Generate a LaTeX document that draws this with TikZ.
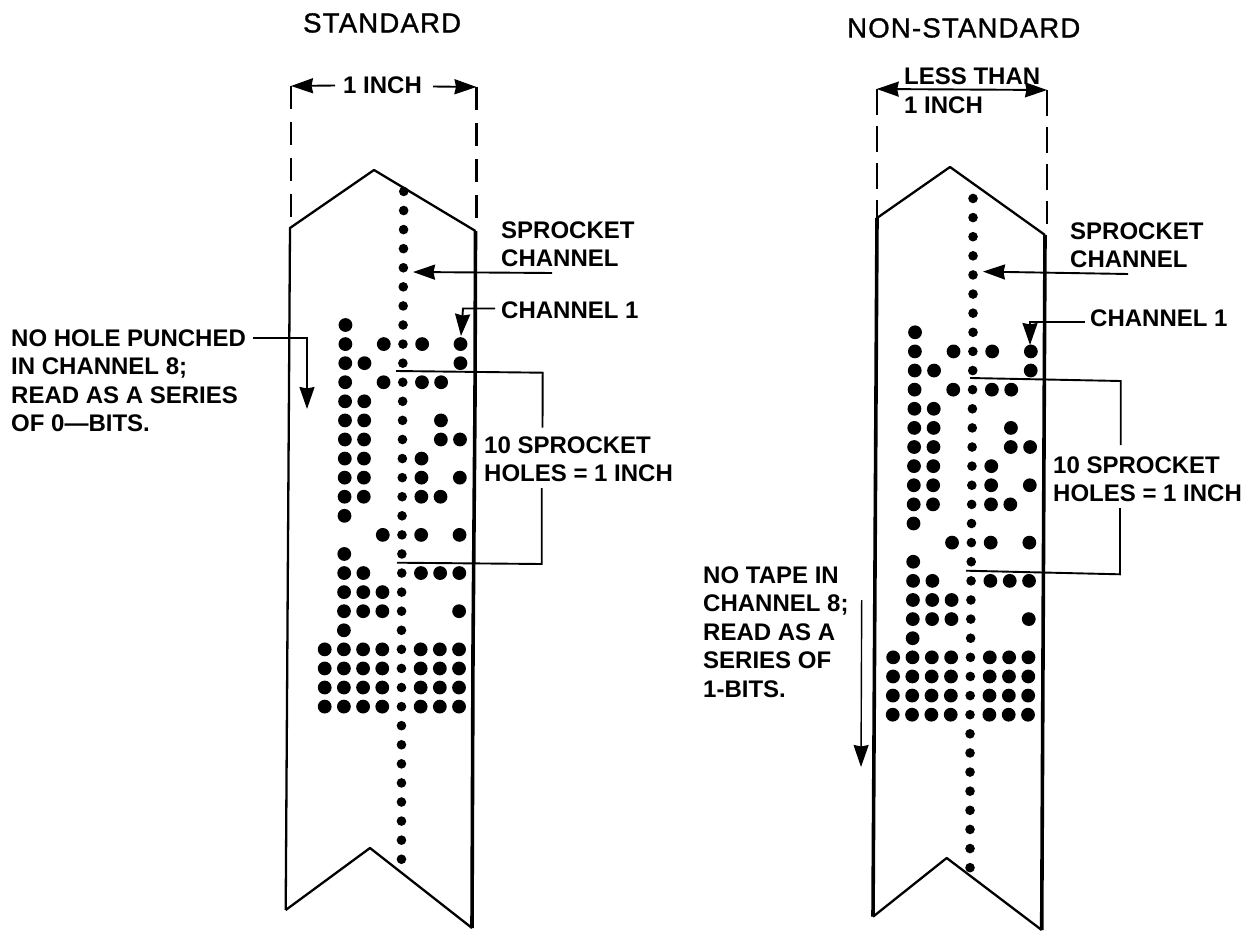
\documentclass[tikz,border=0pt]{standalone}
\usepackage{fontspec}
\setmainfont{Liberation Sans}
\usetikzlibrary{arrows.meta}
\newfontfamily\ttlfont[LetterSpace=4.5,FakeBold=1.2]{Liberation Sans}
\newcommand{\lab}{\fontsize{24}{28.4}\selectfont\bfseries}
\newcommand{\ttl}{\ttlfont\fontsize{27.5}{30}\selectfont}
\newcommand{\holes}[7]{% x0, slot, y0, dy, leanmax, leanrate, sprocket x
  \foreach \i/\cols in {0/{1},1/{1,3,5,7},2/{1,2,7},3/{1,3,5,6},4/{1,2},5/{1,2,6},6/{1,2,6,7},7/{1,2,5},8/{1,2,5,7},9/{1,2,5,6},10/{1},11/{3,5,7},12/{1},13/{1,2,5,6,7},14/{1,2,3},15/{1,2,3,7},16/{1},17/{0,1,2,3,5,6,7},18/{0,1,2,3,5,6,7},19/{0,1,2,3,5,6,7},20/{0,1,2,3,5,6,7}}{
    \pgfmathsetmacro{\dx}{min(#5,max(0,(#6-\i)*#7))}
    \foreach \c in \cols {\fill ({#1+\c*#2+\dx},{#3+\i*#4}) circle (6.9);}
  }
  \foreach \i in {-7,...,28}{
    \pgfmathsetmacro{\dx}{min(#5,max(0,(#6-\i)*#7))}
    \fill ({#1+4*#2+\dx},{#3+\i*#4}) circle (4.8);
  }
}
\tikzset{
  txt/.style={anchor=north west,inner sep=0pt,align=left,font=\lab},
  ttlnode/.style={anchor=north west,inner sep=0pt,font=\ttl},
  edgethin/.style={line width=2.3pt,line join=round},
  edgethick/.style={line width=3.6pt,line join=round},
  dim/.style={line width=2.1pt,dash pattern=on 23pt off 13pt},
  lead/.style={line width=1.9pt},
  tip/.tip={Stealth[length=22pt,width=15pt,inset=1.5pt]},
  arr/.style={lead,-tip},
}
\begin{document}
\begin{tikzpicture}[x=1pt,y=-1pt]
\useasboundingbox (0,0) rectangle (1255,931);
% ---- STANDARD ----
\coordinate (aL) at (290,228); \coordinate (aT) at (374,170); \coordinate (aR) at (475.5,231);
\coordinate (aBL) at (285.7,910); \coordinate (aN) at (370,848); \coordinate (aBR) at (472,928);
\draw[edgethin] (aBL) -- (aL) -- (aT) -- (aR);
\draw[edgethick] (aR) -- (475,400) -- (473,650) -- (aBR);
\draw[edgethin] (aBL) -- (aN) -- (aBR);
\coordinate (aDL0) at (291,86); \coordinate (aDL1) at (291,217);
\coordinate (aDR0) at (476.5,87); \coordinate (aDR1) at (476.5,218);
\draw[dim] (aDL0) -- (aDL1);
\draw[dim] (aDR0) -- (aDR1);
\holes{324.7}{19.19}{325}{19.08}{2.4}{16}{0.1}
\node[ttlnode] (atitle) at (303,13) {STANDARD};
\node[txt] (aone) at (343,76.5) {1 INCH};
\coordinate (aw1) at (335,85.5); \coordinate (aw2) at (291,86);
\coordinate (ae1) at (433,86.5); \coordinate (ae2) at (476.5,87);
\draw[arr] (aw1) -- (aw2);
\draw[arr] (ae1) -- (ae2);
\node[txt] (aspr) at (501,221.5) {SPROCKET\\CHANNEL};
\coordinate (as1) at (552,273); \coordinate (as2) at (413,272);
\draw[arr] (as1) -- (as2);
\node[txt] (ach) at (501,301.5) {CHANNEL 1};
\coordinate (ac1) at (495,308.5); \coordinate (ac2) at (463,308.5); \coordinate (ac3) at (461,336);
\draw[arr] (ac1) -- (ac2) -- (ac3);
\node[txt] (ano) at (11,329.5) {NO HOLE PUNCHED\\IN CHANNEL 8;\\READ AS A SERIES\\OF 0---BITS.};
\coordinate (an1) at (253,338); \coordinate (an2) at (307,338); \coordinate (an3) at (307,409);
\draw[arr] (an1) -- (an2) -- (an3);
\node[txt] (aten) at (484,436.5) {10 SPROCKET\\HOLES = 1 INCH};
\coordinate (ab1) at (396,371); \coordinate (ab2) at (542.7,372.7); \coordinate (ab3) at (542.5,427.7);
\coordinate (ab4) at (541.7,488); \coordinate (ab5) at (541.7,564); \coordinate (ab6) at (397,562.7);
\draw[lead] (ab1) -- (ab2) -- (ab3);
\draw[lead] (ab4) -- (ab5) -- (ab6);
% ---- NON-STANDARD ----
\coordinate (bL) at (877,218); \coordinate (bT) at (950,167); \coordinate (bR) at (1045,235);
\coordinate (bBL) at (873,916.7); \coordinate (bN) at (946.7,858); \coordinate (bBR) at (1041.7,930);
\draw[edgethin] (bL) -- (bT) -- (bR);
\draw[edgethick] (bL) -- (bBL);
\draw[edgethick] (bR) -- (bBR);
\draw[edgethin] (bBL) -- (bN) -- (bBR);
\coordinate (bDL0) at (876.7,89); \coordinate (bDL1) at (876.7,218);
\coordinate (bDR0) at (1047,90); \coordinate (bDR1) at (1047,224);
\draw[dim,dash pattern=on 26pt off 11pt] (bDL0) -- (bDL1);
\draw[dim,dash pattern=on 26pt off 11pt] (bDR0) -- (bDR1);
\holes{892.7}{19.33}{332.3}{19.12}{3}{20}{0.15}
\node[ttlnode] (btitle) at (847,18) {NON-STANDARD};
\node[txt] (bless) at (904,68) {LESS THAN\\1 INCH};
\coordinate (bw1) at (876.7,89); \coordinate (bw2) at (1047,90);
\draw[lead,tip-tip] (bw1) -- (bw2);
\node[txt] (bspr) at (1070,222.5) {SPROCKET\\CHANNEL};
\coordinate (bs1) at (1128,274); \coordinate (bs2) at (983,271.6);
\draw[arr] (bs1) -- (bs2);
\node[txt] (bch) at (1090,309.5) {CHANNEL 1};
\coordinate (bc1) at (1085,321.7); \coordinate (bc2) at (1030,321.7); \coordinate (bc3) at (1030,345);
\draw[arr] (bc1) -- (bc2) -- (bc3);
\node[txt] (bten) at (1053,456.5) {10 SPROCKET\\HOLES = 1 INCH};
\coordinate (bb1) at (970,378); \coordinate (bb2) at (1120.7,381); \coordinate (bb3) at (1120.7,445);
\coordinate (bb4) at (1120,508); \coordinate (bb5) at (1120,574.3); \coordinate (bb6) at (966,570.7);
\draw[lead] (bb1) -- (bb2) -- (bb3);
\draw[lead] (bb4) -- (bb5) -- (bb6);
\node[txt] (bno) at (703,566.5) {NO TAPE IN\\CHANNEL 8;\\READ AS A\\SERIES OF\\1-BITS.};
\coordinate (bn1) at (861.7,600); \coordinate (bn2) at (861,767);
\draw[arr,line width=1.4pt] (bn1) -- (bn2);
\end{tikzpicture}
\end{document}
